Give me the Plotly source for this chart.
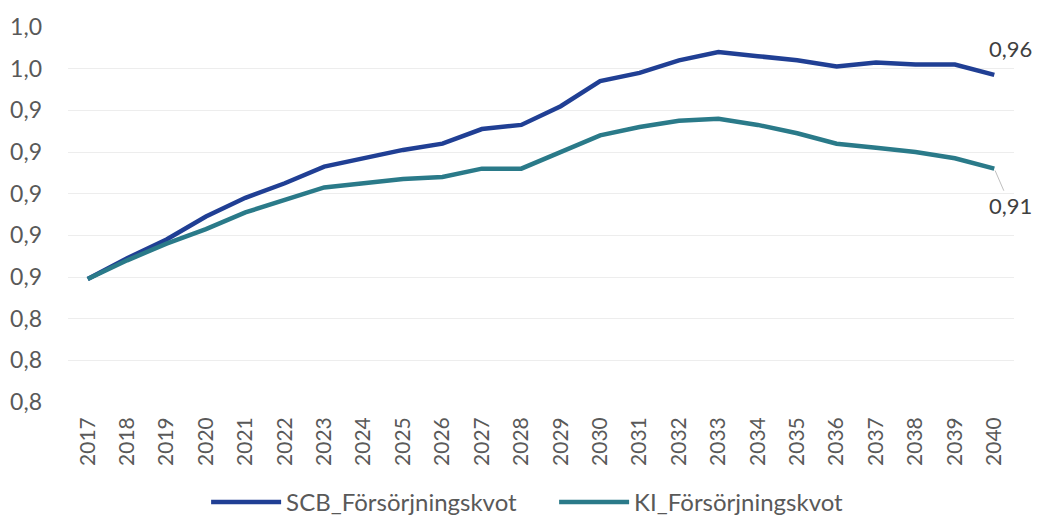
import plotly.graph_objects as go

years = [str(y) for y in range(2017, 2041)]
scb = [0.859, 0.869, 0.878, 0.889, 0.898, 0.905, 0.913, 0.917, 0.921, 0.924,
       0.931, 0.933, 0.942, 0.954, 0.958, 0.964, 0.968, 0.966, 0.964, 0.961,
       0.963, 0.962, 0.962, 0.957]
ki = [0.859, 0.868, 0.876, 0.883, 0.891, 0.897, 0.903, 0.905, 0.907, 0.908,
      0.912, 0.912, 0.920, 0.928, 0.932, 0.935, 0.936, 0.933, 0.929, 0.924,
      0.922, 0.920, 0.917, 0.912]
y_ticks = [0.80, 0.82, 0.84, 0.86, 0.88, 0.90, 0.92, 0.94, 0.96, 0.98]

SCB_COLOR = "#203f94"
KI_COLOR = "#2a7a89"
TXT = "#595959"
FONT = "Lato"

fig = go.Figure()
fig.add_trace(go.Scatter(x=years, y=scb, mode="lines", name="SCB_Försörjningskvot",
                         line=dict(color=SCB_COLOR, width=4.5)))
fig.add_trace(go.Scatter(x=years, y=ki, mode="lines", name="KI_Försörjningskvot",
                         line=dict(color=KI_COLOR, width=4.5)))

def fmt(v):
    return f"{v:.2f}".replace(".", ",")

last = len(years) - 1
fig.add_annotation(x=last, y=scb[-1], xref="x", yref="y", text=fmt(scb[-1]),
                   showarrow=False, xshift=16, yshift=26,
                   font=dict(family=FONT, size=22, color="#404040"))
fig.add_annotation(x=last, y=ki[-1], xref="x", yref="y", text=fmt(ki[-1]),
                   showarrow=True, arrowhead=0, arrowwidth=1, arrowcolor="#bfbfbf",
                   ax=16, ay=37, standoff=2,
                   font=dict(family=FONT, size=22, color="#404040"))

fig.update_layout(
    width=1024, height=511,
    margin=dict(l=60, r=18, t=19, b=117, autoexpand=False),
    paper_bgcolor="white", plot_bgcolor="white",
    separators=", ",
    font=dict(family=FONT, size=20, color=TXT),
    showlegend=True,
    legend=dict(orientation="h", x=0.146, xanchor="left", y=-0.268, yanchor="middle",
                font=dict(family=FONT, size=24, color=TXT), itemwidth=70,
                entrywidth=263, entrywidthmode="pixels"),
    xaxis=dict(type="category", tickangle=-90, showgrid=False, showline=False,
               ticks="", ticklabelstandoff=10,
               tickfont=dict(family=FONT, size=21, color=TXT),
               range=[-0.5, len(years) - 0.5]),
    yaxis=dict(range=[0.80, 0.98], tickvals=y_ticks, tickformat=".1f",
               showgrid=True, gridcolor="#ededed", gridwidth=1, zeroline=False,
               showline=False, ticks="", ticklabelstandoff=25,
               tickfont=dict(family=FONT, size=23, color=TXT)),
)

fig.write_html("out.html")
